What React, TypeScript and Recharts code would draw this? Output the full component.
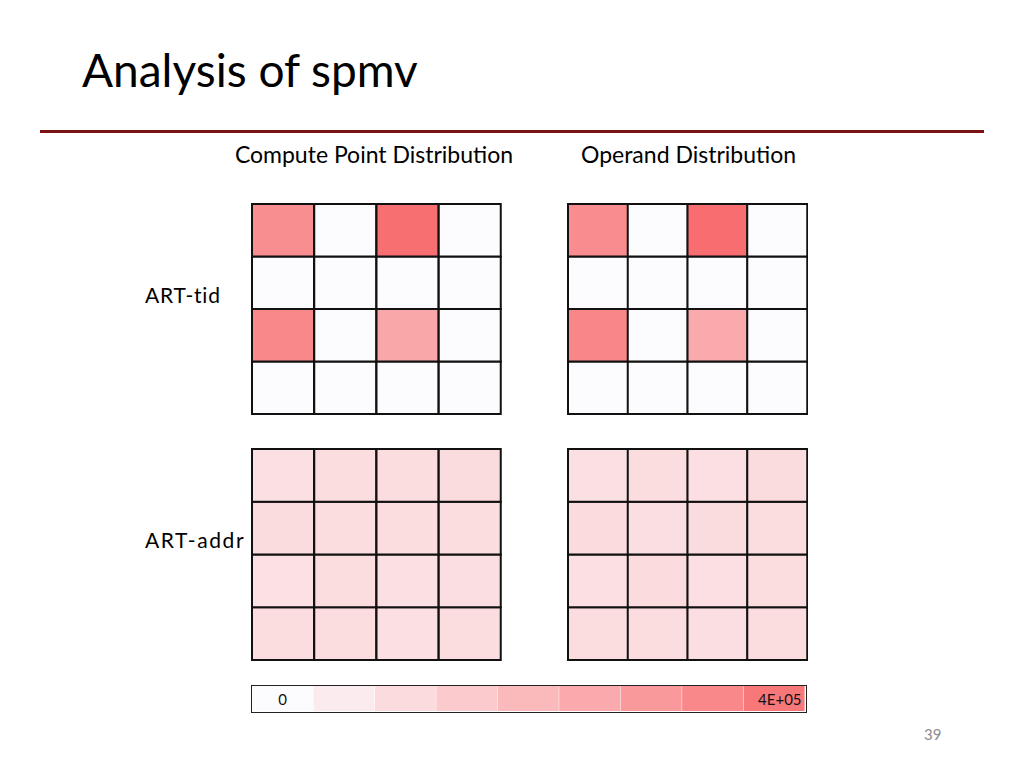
import React from "react";
import { BarChart, Bar, XAxis, YAxis, Cell, LabelList } from "recharts";

const FONT = "'Lato', 'DejaVu Sans', sans-serif";

const colLabels = ["c1", "c2", "c3", "c4"];
const rowKeys = ["r0", "r1", "r2", "r3"]; // r0 = top row

// heat values [row][col], row 0 = top
const tidCompute = [
  [300000, 0, 385000, 0],
  [0, 0, 0, 0],
  [315000, 0, 230000, 0],
  [0, 0, 0, 0],
];
const tidOperand = [
  [305000, 0, 390000, 0],
  [0, 0, 0, 0],
  [320000, 0, 225000, 0],
  [0, 0, 0, 0],
];
const addrCompute = [
  [76000, 86000, 83000, 88000],
  [88000, 86000, 83000, 85000],
  [74000, 86000, 76000, 82000],
  [84000, 85000, 78000, 85000],
];
const addrOperand = [
  [76000, 86000, 79000, 88000],
  [89000, 82000, 88000, 84000],
  [79000, 89000, 78000, 85000],
  [85000, 85000, 82000, 85000],
];

const scaleSteps = [0, 45000, 90000, 135000, 180000, 225000, 270000, 315000, 360000];
const scaleLabels = ["0", "", "", "", "", "", "", "", "4E+05"];
const scaleMax = 400000;

const rowTitles = ["ART-tid", "ART-addr"];
const colTitles = ["Compute Point Distribution", "Operand Distribution"];
const slideTitle = "Analysis of spmv";
const pageNumber = "39";

const MIN_C = [252, 252, 255];
const MAX_C = [248, 105, 107];
function heatColor(v: number) {
  const t = Math.max(0, Math.min(1, v / scaleMax));
  const c = MIN_C.map((m, i) => Math.round(m + (MAX_C[i] - m) * t));
  return `rgb(${c[0]},${c[1]},${c[2]})`;
}

function Heat({ values, left, top, width, height }: any) {
  const data = colLabels.map((c) => ({ col: c, r0: 1, r1: 1, r2: 1, r3: 1 }));
  return (
    <div style={{ position: "absolute", left, top }}>
      <BarChart
        width={width}
        height={height}
        data={data}
        margin={{ top: 1, right: 1, bottom: 1, left: 1 }}
        barCategoryGap={0}
        barGap={0}
      >
        <XAxis dataKey="col" hide />
        <YAxis hide type="number" domain={[0, 4]} />
        {[3, 2, 1, 0].map((r) => (
          <Bar
            key={r}
            dataKey={rowKeys[r]}
            stackId="s"
            isAnimationActive={false}
            stroke="#111"
            strokeWidth={2}
          >
            {values[r].map((v: number, ci: number) => (
              <Cell key={ci} fill={heatColor(v)} />
            ))}
          </Bar>
        ))}
      </BarChart>
    </div>
  );
}

function scaleLabel(props: any) {
  const { x, y, width, height, value, index } = props;
  if (!value) return null;
  const last = index === scaleSteps.length - 1;
  return (
    <text
      x={last ? x + width - 3 : x + width / 2}
      y={y + height / 2}
      textAnchor={last ? "end" : "middle"}
      dominantBaseline="central"
      fontFamily={FONT}
      fontSize={15}
      fill="#111"
    >
      {value}
    </text>
  );
}

function ColorBar({ left, top, width, height }: any) {
  const data = scaleSteps.map((v, i) => ({ step: i, one: 1, value: v, label: scaleLabels[i] }));
  return (
    <div
      style={{
        position: "absolute",
        left,
        top,
        width,
        height,
        border: "1.5px solid #222",
        boxSizing: "border-box",
      }}
    >
      <BarChart
        width={width - 3}
        height={height - 3}
        data={data}
        margin={{ top: 0, right: 0, bottom: 0, left: 0 }}
        barCategoryGap={0}
        barGap={0}
      >
        <XAxis dataKey="step" hide />
        <YAxis hide type="number" domain={[0, 1]} />
        <Bar dataKey="one" isAnimationActive={false}>
          {data.map((d, i) => (
            <Cell key={i} fill={heatColor(d.value)} />
          ))}
          <LabelList dataKey="label" content={scaleLabel} />
        </Bar>
      </BarChart>
    </div>
  );
}

const textBase: React.CSSProperties = {
  position: "absolute",
  fontFamily: FONT,
  color: "#000",
  whiteSpace: "nowrap",
  lineHeight: 1,
};

export default function App() {
  return (
    <div
      style={{
        position: "absolute",
        left: 0,
        top: 0,
        width: 1024,
        height: 768,
        background: "#fff",
        overflow: "hidden",
        fontFamily: FONT,
      }}
    >
      <div style={{ ...textBase, left: 82, top: 47, fontSize: 46 }}>{slideTitle}</div>
      <div
        style={{
          position: "absolute",
          left: 40,
          top: 130,
          width: 944,
          height: 3,
          background: "#7a1414",
        }}
      />
      <div style={{ ...textBase, left: 225, top: 143, width: 298, textAlign: "center", fontSize: 23 }}>
        {colTitles[0]}
      </div>
      <div style={{ ...textBase, left: 568, top: 143, width: 241, textAlign: "center", fontSize: 23 }}>
        {colTitles[1]}
      </div>
      <div style={{ ...textBase, left: 145, top: 284, fontSize: 21, letterSpacing: 0.8 }}>{rowTitles[0]}</div>
      <div style={{ ...textBase, left: 145, top: 529, fontSize: 21, letterSpacing: 1.6 }}>{rowTitles[1]}</div>

      <Heat values={tidCompute} left={251} top={203} width={251} height={212} />
      <Heat values={tidOperand} left={567} top={203} width={241} height={212} />
      <Heat values={addrCompute} left={251} top={448} width={251} height={213} />
      <Heat values={addrOperand} left={567} top={448} width={241} height={213} />

      <ColorBar left={251} top={685} width={556} height={28} />

      <div style={{ ...textBase, left: 924, top: 727, fontSize: 15, color: "#8c8c8c" }}>{pageNumber}</div>
    </div>
  );
}
